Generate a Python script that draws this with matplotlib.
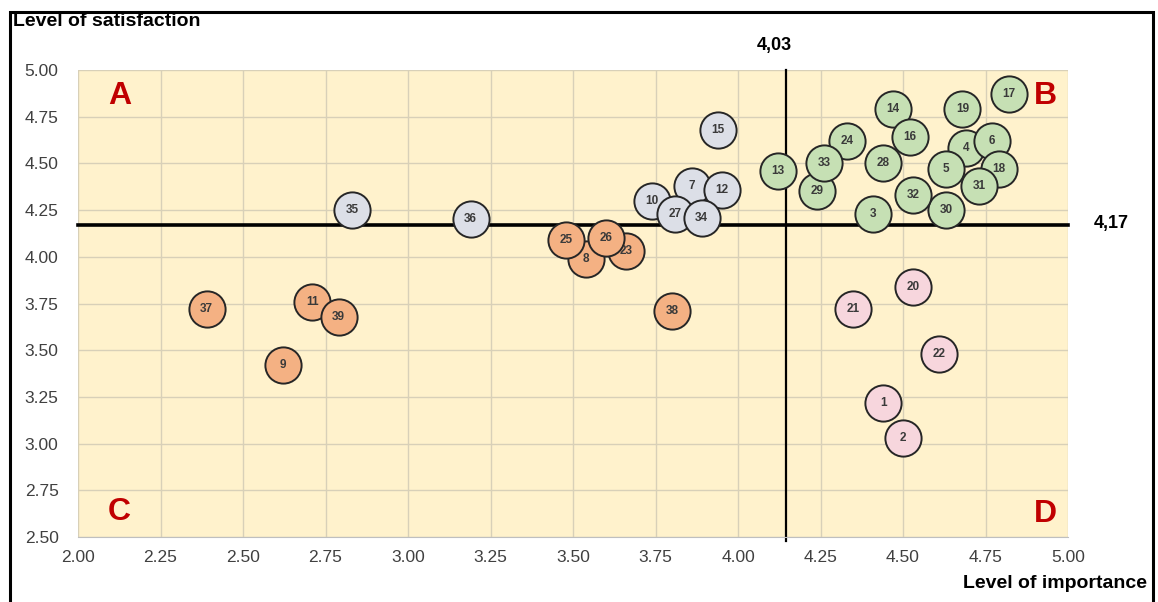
import matplotlib.pyplot as plt
from matplotlib.patches import Rectangle

# item numbers, importance (x) and satisfaction (y), colour group
items = list(range(1, 40))
importance = [4.44, 4.50, 4.41, 4.69, 4.63, 4.77, 3.86, 3.54, 2.62, 3.74,
              2.71, 3.95, 4.12, 4.47, 3.94, 4.52, 4.82, 4.79, 4.68, 4.53,
              4.35, 4.61, 3.66, 4.33, 3.48, 3.60, 3.81, 4.44, 4.24, 4.63,
              4.73, 4.53, 4.26, 3.89, 2.83, 3.19, 2.39, 3.80, 2.79]
satisfaction = [3.22, 3.03, 4.23, 4.58, 4.47, 4.62, 4.38, 3.99, 3.42, 4.30,
                3.76, 4.36, 4.46, 4.79, 4.68, 4.64, 4.87, 4.47, 4.79, 3.84,
                3.72, 3.48, 4.03, 4.62, 4.09, 4.10, 4.23, 4.50, 4.35, 4.25,
                4.38, 4.33, 4.50, 4.21, 4.25, 4.20, 3.72, 3.71, 3.68]
groups = ["pink", "pink", "green", "green", "green", "green", "grey", "orange", "orange", "grey",
          "orange", "grey", "green", "green", "grey", "green", "green", "green", "green", "pink",
          "pink", "pink", "orange", "green", "orange", "orange", "grey", "green", "green", "green",
          "green", "green", "green", "grey", "grey", "grey", "orange", "orange", "orange"]

# threshold lines (position as drawn) and their labels
imp_line = 4.145
sat_line = 4.17
imp_label = "4,03"
sat_label = "4,17"

xticks = [2.00, 2.25, 2.50, 2.75, 3.00, 3.25, 3.50, 3.75, 4.00, 4.25, 4.50, 4.75, 5.00]
yticks = [2.50, 2.75, 3.00, 3.25, 3.50, 3.75, 4.00, 4.25, 4.50, 4.75, 5.00]

colors = {"green": "#c6e0b4", "grey": "#dcdfe7", "orange": "#f4b183", "pink": "#f7d6dd"}
font = "Liberation Sans"

fig = plt.figure(figsize=(11.58, 6.02), dpi=100)
ax = fig.add_axes([78 / 1158, 1 - 537 / 602, 990 / 1158, 467 / 602])
ax.set_facecolor("#fff2cc")
ax.set_xlim(2.0, 5.0)
ax.set_ylim(2.5, 5.0)
ax.set_xticks(xticks)
ax.set_yticks(yticks)
ax.set_xticklabels([f"{t:.2f}" for t in xticks])
ax.set_yticklabels([f"{t:.2f}" for t in yticks])
ax.tick_params(length=0, labelsize=12.5, labelcolor="#404040", pad=9)
ax.tick_params(axis="y", pad=14)
for lab in ax.get_xticklabels() + ax.get_yticklabels():
    lab.set_family(font)
ax.grid(True, color="#d8d0b8", linewidth=1)
ax.set_axisbelow(True)
for s in ["top", "right", "left"]:
    ax.spines[s].set_visible(False)
ax.spines["bottom"].set_color("#bfbfbf")

# bubbles in item order (later items drawn on top)
for n, x, y, g in zip(items, importance, satisfaction, groups):
    ax.scatter(x, y, s=680, color=colors[g], edgecolor="#262626", linewidth=1.4, zorder=3 + n * 0.01)
    ax.text(x, y, str(n), ha="center", va="center", fontsize=8.5, color="#3a3a3a",
            family=font, fontweight="bold", zorder=3 + n * 0.01 + 0.005)

# threshold lines
ax.plot([2.0, 5.0], [sat_line, sat_line], color="black", linewidth=2.6, zorder=2.5, clip_on=False)
ax.plot([imp_line, imp_line], [5.0, 2.48], color="black", linewidth=1.6, zorder=2.5, clip_on=False)
ax.text(imp_line - 0.035, 5.13, imp_label, ha="center", va="center", fontsize=13,
        fontweight="bold", family=font)
ax.text(5.13, sat_line + 0.01, sat_label, ha="center", va="center", fontsize=13,
        fontweight="bold", family=font)

# quadrant letters
for letter, fx, fy in [("A", 0.042, 0.945), ("B", 0.977, 0.945), ("C", 0.042, 0.053), ("D", 0.977, 0.05)]:
    ax.text(fx, fy, letter, transform=ax.transAxes, ha="center", va="center", fontsize=23,
            fontweight="bold", color="#c00000", family=font, zorder=10)

fig.text(13 / 1158, 1 - 22 / 602, "Level of satisfaction", ha="left", va="center",
         fontsize=14, fontweight="bold", family=font)
fig.text(1147 / 1158, 1 - 583 / 602, "Level of importance", ha="right", va="center",
         fontsize=14, fontweight="bold", family=font)

# frame around the picture
fig.patches.append(Rectangle((10 / 1158, -0.05), 1143 / 1158, 1.05 - 12 / 602,
                             transform=fig.transFigure, fill=False, edgecolor="black",
                             linewidth=2.2))

fig.savefig("out.png", dpi=100)
